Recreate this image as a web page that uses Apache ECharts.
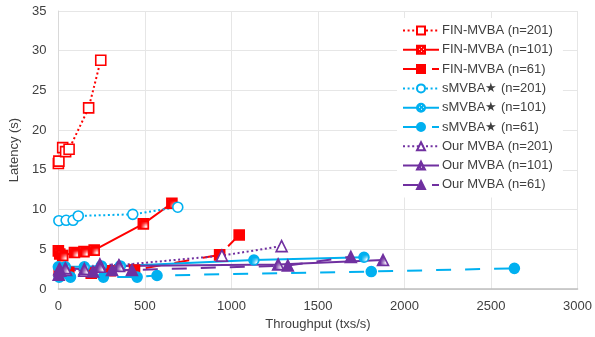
<!DOCTYPE html>
<html><head><meta charset="utf-8">
<script src="https://cdn.jsdelivr.net/npm/echarts@6/dist/echarts.min.js"></script>
<style>html,body{margin:0;padding:0;background:#fff}#c{width:595px;height:337px}</style>
</head><body><div id="c"></div>
<script>
// ---- data: [throughput (txs/s), latency (s)] ----
const finN201 = [[0,15.8],[3,16.1],[25,17.8],[42,17.3],[62,17.6],[175,22.8],[245,28.8]];
const finN101 = [[0,4.8],[8,4.4],[25,4.2],[93,4.6],[148,4.7],[207,4.9],[491,8.2],[656,10.8]];
const finN61  = [[5,2.2],[60,2.1],[190,2.0],[300,2.3],[440,2.4],[932,4.3],[1045,6.8]];
const smN201  = [[3,8.6],[45,8.65],[85,8.65],[115,9.2],[430,9.4],[690,10.3]];
const smN101  = [[0,2.8],[40,2.8],[150,2.8],[248,2.9],[358,2.9],[1130,3.65],[1766,4.0]];
const smN61   = [[5,1.5],[70,1.5],[260,1.5],[455,1.5],[570,1.7],[1808,2.2],[2635,2.6]];
const ourN201 = [[10,2.4],[45,2.4],[150,2.3],[240,3.1],[350,3.0],[945,4.2],[1290,5.4]];
const ourN101 = [[5,2.5],[40,2.6],[150,2.5],[240,2.8],[350,2.9],[1270,3.1],[1876,3.65]];
const ourN61  = [[2,1.8],[10,2.3],[200,2.2],[310,2.4],[425,2.4],[1326,2.95],[1690,4.05]];
const seriesNames = ['FIN-MVBA (n=201)','FIN-MVBA (n=101)','FIN-MVBA (n=61)',
  'sMVBA★ (n=201)','sMVBA★ (n=101)','sMVBA★ (n=61)',
  'Our MVBA (n=201)','Our MVBA (n=101)','Our MVBA (n=61)'];
const xTicks = [0,500,1000,1500,2000,2500,3000];
const yTicks = [0,5,10,15,20,25,30,35];

const RED='#ff0000', BLUE='#00b0f0', PURPLE='#7030a0';
function pattern(col){
  const c=document.createElement('canvas'); c.width=4; c.height=4;
  const g=c.getContext('2d'); g.fillStyle=col; g.fillRect(0,0,4,4);
  g.fillStyle='#ffffff'; g.fillRect(0,0,1,1); g.fillRect(2,2,1,1);
  return {image:c, repeat:'repeat'};
}
const DOT=[2,2.6], DASH=[15,14];
function mk(name,data,color,lineType,symbol,fill,size){
  return {name,type:'line',data,symbol,symbolSize:size,showSymbol:true,
    lineStyle:{color,width:2,type:lineType},
    itemStyle:{color:fill,borderColor:color,borderWidth:1.6},
    emphasis:{disabled:true},z:2,animation:false};
}
const series=[
  mk(seriesNames[0],finN201,RED,DOT,'rect','#ffffff',10),
  mk(seriesNames[1],finN101,RED,'solid','rect',pattern(RED),10),
  mk(seriesNames[2],finN61,RED,DASH,'rect',RED,10),
  mk(seriesNames[3],smN201,BLUE,DOT,'circle','#ffffff',10),
  mk(seriesNames[4],smN101,BLUE,'solid','circle',pattern(BLUE),10),
  mk(seriesNames[5],smN61,BLUE,DASH,'circle',BLUE,10),
  mk(seriesNames[6],ourN201,PURPLE,DOT,'triangle','#ffffff',11),
  mk(seriesNames[7],ourN101,PURPLE,'solid','triangle',pattern(PURPLE),11),
  mk(seriesNames[8],ourN61,PURPLE,DASH,'triangle',PURPLE,11)
];
const font='"Liberation Sans", Arial, sans-serif';
const chart=echarts.init(document.getElementById('c'),null,{renderer:'canvas'});
chart.setOption({
  animation:false,
  grid:{left:53,right:15,top:11,bottom:48,containLabel:false},
  legend:{data:seriesNames,orient:'vertical',left:397,top:18,padding:[6,10,6,5],
    itemWidth:36,itemHeight:10,itemGap:6.3,backgroundColor:'#ffffff',
    textStyle:{fontFamily:font,fontSize:13,color:'#404040',padding:[0,0,0,-2]}},
  xAxis:{type:'value',min:0,max:3000,interval:500,
    name:'Throughput (txs/s)',nameLocation:'middle',nameGap:28,
    nameTextStyle:{fontFamily:font,fontSize:13,color:'#404040'},
    axisLine:{show:true,lineStyle:{color:'#bfbfbf',width:1.5}},axisTick:{show:false},
    axisLabel:{fontFamily:font,fontSize:13,color:'#404040',margin:11,
      formatter:v=>xTicks.includes(v)?String(v):''},
    splitLine:{show:true,lineStyle:{color:'#e6e6e6',width:1}}},
  yAxis:{type:'value',min:0,max:35,interval:5,
    name:'Latency (s)',nameLocation:'middle',nameGap:34,nameRotate:90,
    nameTextStyle:{fontFamily:font,fontSize:13,color:'#404040'},
    axisLine:{show:true,lineStyle:{color:'#d9d9d9',width:1}},axisTick:{show:false},
    axisLabel:{fontFamily:font,fontSize:13,color:'#404040',margin:12,
      formatter:v=>yTicks.includes(v)?String(v):''},
    splitLine:{show:true,lineStyle:{color:'#e6e6e6',width:1}}},
  series
});
</script></body></html>
